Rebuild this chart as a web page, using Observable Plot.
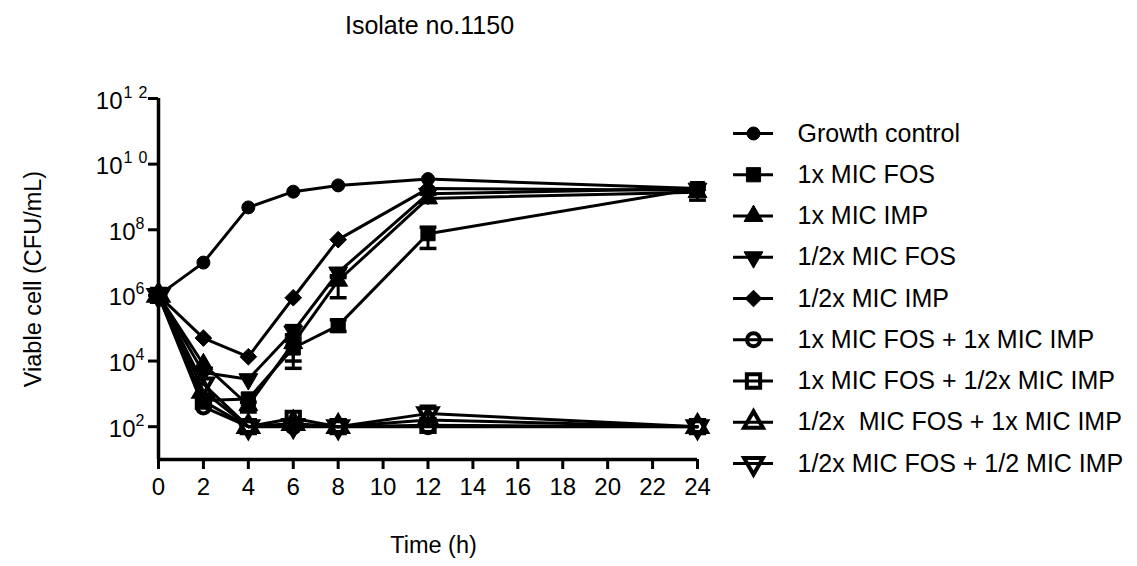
<!DOCTYPE html>
<html>
<head>
<meta charset="utf-8">
<script src="https://cdn.jsdelivr.net/npm/d3@7"></script>
<script src="https://cdn.jsdelivr.net/npm/@observablehq/plot@0.6"></script>
<style>
  html, body { margin: 0; padding: 0; background: #fff; }
  #wrap { position: relative; width: 1137px; height: 566px; overflow: hidden; font-family: "Liberation Sans", Arial, sans-serif; }
  #main { position: absolute; left: 0; top: 0; }
  #legend { position: absolute; left: 733px; top: 113px; }
  #legend text { white-space: pre; }
</style>
</head>
<body>
<div id="wrap"><div id="main"></div><div id="legend"></div></div>
<script>
// ---------------- data ----------------
const chartTitle = "Isolate no.1150";
const xTitle = "Time (h)";
const yTitle = "Viable cell (CFU/mL)";

const times = [0, 2, 4, 6, 8, 12, 24];
const xTicks = [0, 2, 4, 6, 8, 10, 12, 14, 16, 18, 20, 22, 24];
const yTicks = [1e2, 1e4, 1e6, 1e8, 1e10, 1e12];
const yTickExponents = ["2", "4", "6", "8", "10", "12"];

const seriesNames = [
  "Growth control",
  "1x MIC FOS",
  "1x MIC IMP",
  "1/2x MIC FOS",
  "1/2x MIC IMP",
  "1x MIC FOS + 1x MIC IMP",
  "1x MIC FOS + 1/2x MIC IMP",
  "1/2x  MIC FOS + 1x MIC IMP",
  "1/2x MIC FOS + 1/2 MIC IMP"
];

// CFU/mL at each time point
const growthControl  = [1e6, 1e7,   4.8e8,  1.45e9, 2.25e9, 3.5e9,  1.8e9];
const mic1Fos        = [1e6, 6.3e2, 7e2,    2.5e4,  1.2e5,  7.6e7,  1.8e9];
const mic1Imp        = [1e6, 8e3,   4.5e2,  3.5e4,  2.8e6,  9e8,    1.4e9];
const micHalfFos     = [1e6, 4.5e3, 2.8e3,  8e4,    5e6,    1.25e9, 1.8e9];
const micHalfImp     = [1e6, 5e4,   1.35e4, 8.5e5,  5e7,    1.8e9,  1.6e9];
const fos1Imp1       = [1e6, 4e2,   1e2,    1e2,    1e2,    1e2,    1e2];
const fos1ImpHalf    = [1e6, 6e2,   1e2,    1.8e2,  1e2,    1.1e2,  1e2];
const fosHalfImp1    = [1e6, 1.2e3, 1e2,    1.25e2, 1e2,    1.6e2,  1e2];
const fosHalfImpHalf = [1e6, 2e3,   1e2,    1.1e2,  1e2,    2.5e2,  1e2];
const seriesValues = [growthControl, mic1Fos, mic1Imp, micHalfFos, micHalfImp, fos1Imp1, fos1ImpHalf, fosHalfImp1, fosHalfImpHalf];

// error bars (series index, time, low, high)
const errSeries = [2, 1, 2, 3, 1, 2, 3, 1, 2, 8, 2];
const errTime   = [4, 6, 6, 6, 8, 8, 8, 12, 12, 12, 24];
const errLow    = [2.8e2, 1e4, 6e3, 5e4, 8e4, 8.5e5, 3.5e6, 2.7e7, 7e8, 1.6e2, 8e8];
const errHigh   = [5.6e2, 4e4, 6.3e4, 1.2e5, 1.8e5, 4e6, 6.5e6, 1.2e8, 1.2e9, 4.2e2, 1.9e9];

// ---------------- styles ----------------
const FONT = "'Liberation Sans', Arial, Helvetica, sans-serif";
const markerStyles = [
  {symbol: "circle",   r: 6.5, filled: true,  rotate: 0},
  {symbol: "square",   r: 8,   filled: true,  rotate: 0},
  {symbol: "triangle", r: 7,   filled: true,  rotate: 0},
  {symbol: "triangle", r: 7,   filled: true,  rotate: 180},
  {symbol: "diamond2", r: 7.5, filled: true,  rotate: 0},
  {symbol: "circle",   r: 6.5, filled: false, rotate: 0},
  {symbol: "square",   r: 7.5, filled: false, rotate: 0},
  {symbol: "triangle", r: 7,   filled: false, rotate: 0},
  {symbol: "triangle", r: 7,   filled: false, rotate: 180}
];
const hline = {draw(ctx, size) { const w = Math.sqrt(size) / 2; ctx.moveTo(-w, 0); ctx.lineTo(w, 0); }};

// ---------------- build tables ----------------
const rows = [];
seriesValues.forEach((vals, s) => vals.forEach((v, i) => rows.push({s, name: seriesNames[s], t: times[i], v})));
const errRows = errSeries.map((s, i) => ({s, t: errTime[i], lo: errLow[i], hi: errHigh[i]}));
const capRows = errRows.flatMap(d => [{t: d.t, v: d.lo}, {t: d.t, v: d.hi}]);
const oneDigit = yTicks.filter((d, i) => yTickExponents[i].length === 1);
const twoDigit = yTicks.filter((d, i) => yTickExponents[i].length === 2);
const expOf = d => yTickExponents[yTicks.indexOf(d)];

function dotMark(data, st, opts) {
  return Plot.dot(data, {
    ...opts,
    symbol: st.symbol,
    r: st.r,
    rotate: st.rotate,
    fill: st.filled ? "black" : "none",
    stroke: "black",
    strokeWidth: st.filled ? 1 : 4
  });
}

// open markers first, filled markers on top
const drawOrder = [5, 6, 7, 8, 0, 1, 2, 3, 4];
const seriesDots = drawOrder.map(s =>
  dotMark(rows.filter(d => d.s === s), markerStyles[s], {x: "t", y: "v"})
);

const main = Plot.plot({
  width: 1137,
  height: 566,
  marginLeft: 158,
  marginRight: 440,
  marginTop: 98,
  marginBottom: 107,
  style: {fontFamily: FONT, fontSize: "24px", color: "black", background: "white"},
  x: {domain: [0, 24], label: null},
  y: {type: "log", domain: [10, 1e12], label: null},
  marks: [
    Plot.axisX({ticks: xTicks, tickSize: 10, tickPadding: 8, strokeWidth: 3, fontSize: 24, label: null, tickFormat: d => String(d)}),
    Plot.axisY({ticks: yTicks, tickSize: 10, strokeWidth: 3, label: null, tickFormat: () => ""}),
    // tick labels 10^n
    Plot.text(oneDigit, {y: d => d, text: () => "10", frameAnchor: "left", textAnchor: "end", lineAnchor: "bottom", dx: -23, dy: 10, fontSize: 24}),
    Plot.text(oneDigit, {y: d => d, text: expOf, frameAnchor: "left", textAnchor: "start", lineAnchor: "bottom", dx: -23, dy: -1, fontSize: 16}),
    Plot.text(twoDigit, {y: d => d, text: () => "10", frameAnchor: "left", textAnchor: "end", lineAnchor: "bottom", dx: -36, dy: 10, fontSize: 24}),
    Plot.text(twoDigit, {y: d => d, text: expOf, frameAnchor: "left", textAnchor: "start", lineAnchor: "bottom", dx: -35, dy: -1, fontSize: 16, fill: "#000001"}),
    // axis lines
    Plot.ruleY([10], {strokeWidth: 3.5}),
    Plot.ruleX([0], {strokeWidth: 3.5}),
    // titles
    Plot.text([chartTitle], {frameAnchor: "top", textAnchor: "middle", lineAnchor: "bottom", dx: 1.5, dy: -65, fontSize: 25}),
    Plot.text([xTitle], {frameAnchor: "bottom", textAnchor: "middle", lineAnchor: "bottom", dx: 5.5, dy: 93, fontSize: 23.5}),
    Plot.text([yTitle], {frameAnchor: "left", textAnchor: "middle", lineAnchor: "bottom", rotate: -90, dx: -118, fontSize: 23.5}),
    // data
    Plot.line(rows, {x: "t", y: "v", z: "s", stroke: "black", strokeWidth: 3}),
    Plot.ruleX(errRows, {x: "t", y1: "lo", y2: "hi", stroke: "black", strokeWidth: 3}),
    Plot.dot(capRows, {x: "t", y: "v", symbol: hline, r: 9.5, fill: "none", stroke: "black", strokeWidth: 3.5}),
    ...seriesDots
  ]
});
d3.select(main).selectAll('g[fill="#000001"] text').attr("letter-spacing", 6);
document.getElementById("main").appendChild(main);

// ---------------- legend ----------------
const legendRows = seriesNames.map((name, i) => ({i, name}));
const legend = Plot.plot({
  width: 404,
  height: 370,
  margin: 0,
  style: {fontFamily: FONT, color: "black", background: "transparent", overflow: "visible"},
  x: {domain: [0, 404], range: [0, 404], axis: null},
  y: {domain: [0, 8], range: [20, 350], axis: null},
  marks: [
    Plot.ruleY(legendRows, {y: "i", x1: 0, x2: 40, stroke: "black", strokeWidth: 3}),
    ...legendRows.map(d => dotMark([d], markerStyles[d.i], {x: 20, y: "i"})),
    Plot.text(legendRows, {y: "i", text: "name", frameAnchor: "left", dx: 64, textAnchor: "start", fontSize: 25})
  ]
});
document.getElementById("legend").appendChild(legend);
</script>
</body>
</html>
